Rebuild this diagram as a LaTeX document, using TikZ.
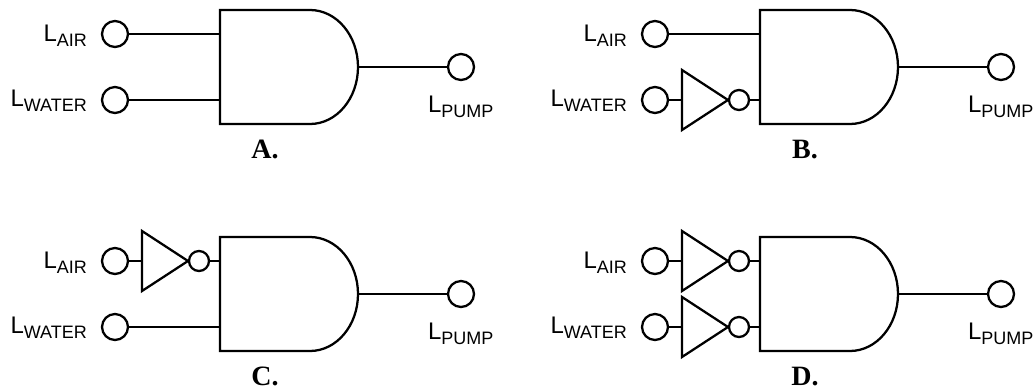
\documentclass[tikz,border=0pt]{standalone}
\usepackage{fontspec}
\setmainfont{Liberation Sans}
\newfontfamily\letterfont{Liberation Serif}
\newcommand{\lamp}[1]{\fontsize{18}{20}\selectfont L\raisebox{-0.22em}{\fontsize{13.5}{15}\selectfont #1}}

\begin{document}
\begin{tikzpicture}[x=0.75pt,y=-0.75pt,line width=1.7pt,
    terminal/.style={draw,circle,inner sep=0pt,minimum size=19.5pt},
    bubble/.style={draw,circle,inner sep=0pt,minimum size=15pt},
    lamplabel/.style={inner sep=0pt,anchor=base east},
    letter/.style={inner sep=0pt,anchor=base,font=\letterfont\bfseries\fontsize{21}{23}\selectfont}]
  \useasboundingbox (0,0) rectangle (1033,389);
  \foreach \name/\dx/\dy/\invair/\invwater in {A/0/0/0/0,B/540/0/0/1,C/0/227/1/0,D/540/227/1/1} {
    \begin{scope}[shift={(\dx*0.75pt,-\dy*0.75pt)}]
      %GATE
      \draw (310,10) -- (220,10) -- (220,124) -- (310,124)
        .. controls (336.5,124) and (358,98.5) .. (358,67)
        .. controls (358,35.5) and (336.5,10) .. (310,10);
      \coordinate (\name gate air) at (220,34);
      \coordinate (\name gate water) at (220,100);
      \coordinate (\name gate out) at (358,67);
      %TERMINALS
      \node[terminal] (\name air) at (115,34) {};
      \node[terminal] (\name water) at (115,100) {};
      \node[terminal] (\name pump) at (461,67) {};
      \node[lamplabel] (\name air text) at (88,41) {\lamp{AIR}};
      \node[lamplabel] (\name water text) at (88,106) {\lamp{WATER}};
      \node[lamplabel,anchor=base west] (\name pump text) at (427,112) {\lamp{PUMP}};
      \node[letter] (\name letter) at (265,158) {\name.};
      \draw (\name gate out) -- (\name pump);
      %INPUTS
      \ifnum\invair=1
        \coordinate (\name air in) at (142,34);
        \draw (142,4) -- (188,34) -- (142,64) -- cycle;
        \node[bubble] (\name air not) at (199,34) {};
        \draw (\name air) -- (\name air in);
        \draw (\name air not) -- (\name gate air);
      \else
        \draw (\name air) -- (\name gate air);
      \fi
      \ifnum\invwater=1
        \coordinate (\name water in) at (142,100);
        \draw (142,70) -- (188,100) -- (142,130) -- cycle;
        \node[bubble] (\name water not) at (199,100) {};
        \draw (\name water) -- (\name water in);
        \draw (\name water not) -- (\name gate water);
      \else
        \draw (\name water) -- (\name gate water);
      \fi
    \end{scope}
  }
\end{tikzpicture}
\end{document}
